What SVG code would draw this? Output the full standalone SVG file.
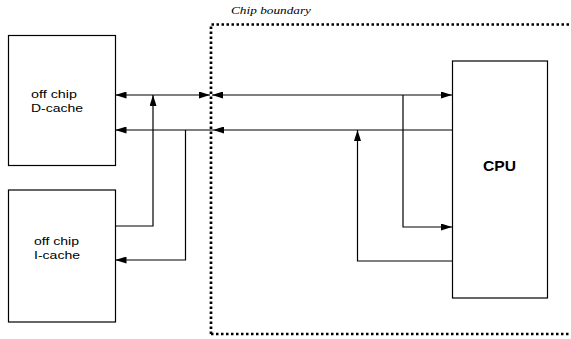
<svg xmlns="http://www.w3.org/2000/svg" width="571" height="339" viewBox="0 0 571 339">
  <style>
    .box { fill: #fff; stroke: #000; stroke-width: 1.2; }
    .wire { fill: none; stroke: #000; stroke-width: 1.2; }
    .lbl { font-family: "Liberation Sans", Arial, sans-serif; font-size: 11px; fill: #000; }
    .cpu { font-family: "Liberation Sans", Arial, sans-serif; font-size: 14px; font-weight: bold; fill: #000; }
    .bnd { font-family: "Liberation Serif", "Times New Roman", serif; font-size: 11px; font-style: italic; fill: #000; }
  </style>
  <defs>
    <marker id="arr" markerUnits="userSpaceOnUse" markerWidth="11" markerHeight="7" refX="11" refY="3.5" orient="auto-start-reverse">
      <path d="M0,0 L11,3.5 L0,7 z" fill="#000"/>
    </marker>
  </defs>
  <rect width="571" height="339" fill="#fff"/>

  <g id="chip-boundary">
    <path d="M211,334 V24.5 H571 M211,334 H571" fill="none" stroke="#000" stroke-width="2.7" stroke-dasharray="2.5 2.5"/>
    <text class="bnd" x="231" y="14" textLength="80" lengthAdjust="spacingAndGlyphs">Chip boundary</text>
  </g>

  <g id="dcache">
    <rect class="box" x="8.5" y="35.5" width="107" height="130"/>
    <text class="lbl" x="31" y="98" textLength="46" lengthAdjust="spacingAndGlyphs">off chip</text>
    <text class="lbl" x="31" y="112" textLength="52" lengthAdjust="spacingAndGlyphs">D-cache</text>
  </g>

  <g id="icache">
    <rect class="box" x="8.5" y="190" width="107" height="132"/>
    <text class="lbl" x="34" y="245" textLength="45" lengthAdjust="spacingAndGlyphs">off chip</text>
    <text class="lbl" x="34" y="259" textLength="46" lengthAdjust="spacingAndGlyphs">I-cache</text>
  </g>

  <g id="cpu">
    <rect class="box" x="452.5" y="61" width="95" height="237"/>
    <text class="cpu" x="483" y="171" textLength="33" lengthAdjust="spacingAndGlyphs">CPU</text>
  </g>

  <g id="connectors">
    <path class="wire" d="M115.5,95 H210" marker-start="url(#arr)" marker-end="url(#arr)"/>
    <path class="wire" d="M212,95 H452" marker-start="url(#arr)" marker-end="url(#arr)"/>
    <path class="wire" d="M213,130 H115.5" marker-end="url(#arr)"/>
    <path class="wire" d="M452,130 H213" marker-end="url(#arr)"/>
    <path class="wire" d="M115.5,226 H153 V95" marker-end="url(#arr)"/>
    <path class="wire" d="M185.5,130 V260 H115.5" marker-end="url(#arr)"/>
    <path class="wire" d="M403,95 V227 H452" marker-end="url(#arr)"/>
    <path class="wire" d="M452,261 H357.5 V130" marker-end="url(#arr)"/>
  </g>
</svg>
